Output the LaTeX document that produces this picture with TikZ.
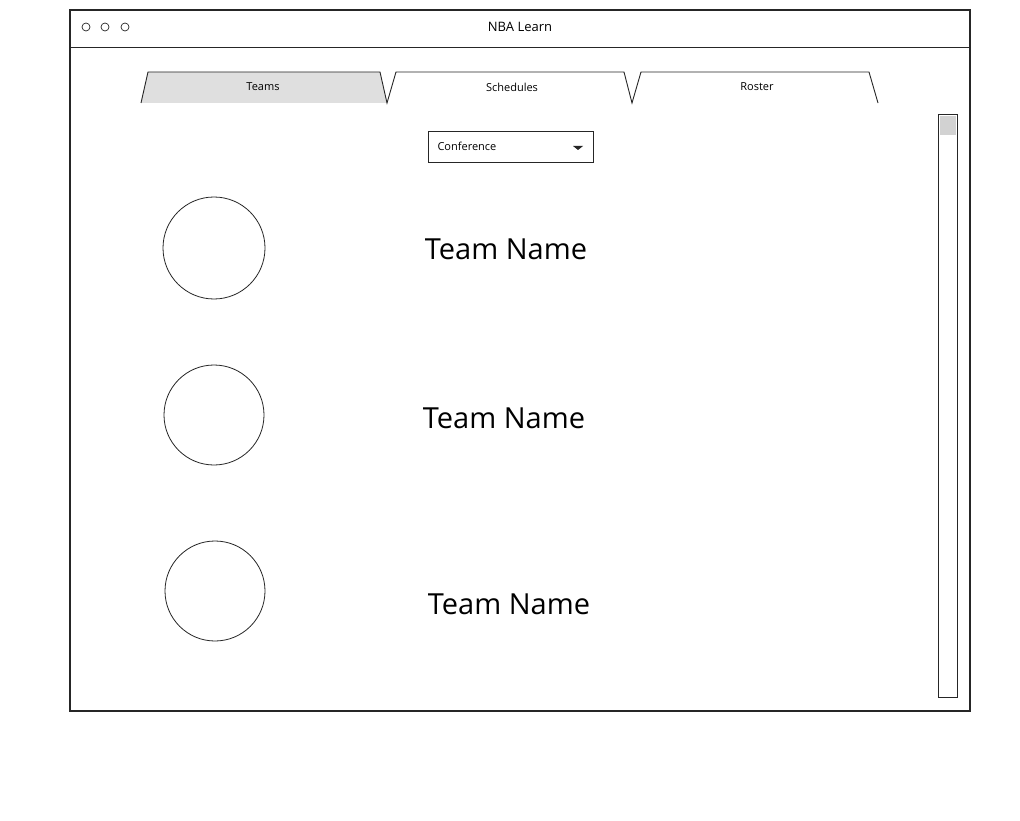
\documentclass[tikz,border=0pt]{standalone}
\usepackage{fontspec}
\setmainfont{Open Sans}
\usetikzlibrary{positioning}

\tikzset{
  sketch/.style={draw=black!85, line width=0.9pt},
  tablabel/.style={font=\fontsize{11}{13}\selectfont},
  teamlabel/.style={font=\fontsize{29}{34}\selectfont},
  logo/.style={sketch, line width=0.8pt}
}

\begin{document}
\begin{tikzpicture}[x=1pt,y=-1pt]
    \useasboundingbox (0,0) rectangle (1020,821);
    \fill[white] (0,0) rectangle (1020,821);

    % window frame and title bar
    \draw[sketch, line width=1.1pt] (70,10) rectangle (970,711);
    \draw[sketch] (70,47) -- (970,47);
    \foreach \x in {86,105,125}
        \draw[sketch, line width=0.7pt] (\x,27) circle (4);
    \node[font=\fontsize{13}{15}\selectfont] (title) at (520,27) {NBA Learn};

    % tabs
    \fill[gray!25] (141,103) -- (148,72) -- (380,72) -- (387,103) -- cycle;
    \draw[sketch] (141,103) -- (148,72) -- (380,72) -- (387,103)
                  -- (396,72) -- (624,72) -- (632,103)
                  -- (641,72) -- (869,72) -- (878,103);
    \node[tablabel] (teams) at (263,87) {Teams};
    \node[tablabel] (schedules) at (512,87) {Schedules};
    \node[tablabel] (roster) at (757,87) {Roster};

    % conference dropdown
    \draw[sketch] (428,131) rectangle (593,162);
    \node[tablabel, anchor=west] (conference) at (434,146) {Conference};
    \fill[black!85] (573,146) -- (583,146) -- (578,150) -- cycle;

    % scrollbar
    \draw[sketch] (938,114) rectangle (957,697);
    \fill[gray!35] (940,116) rectangle (956,135);

    % team rows
    \draw[logo] (214,248) circle (51);
    \draw[logo] (214,415) circle (50);
    \draw[logo] (215,591) circle (50);
    \node[teamlabel] (team1) at (506,249) {Team Name};
    \node[teamlabel] (team2) at (504,418) {Team Name};
    \node[teamlabel] (team3) at (509,604) {Team Name};

\end{tikzpicture}
\end{document}
